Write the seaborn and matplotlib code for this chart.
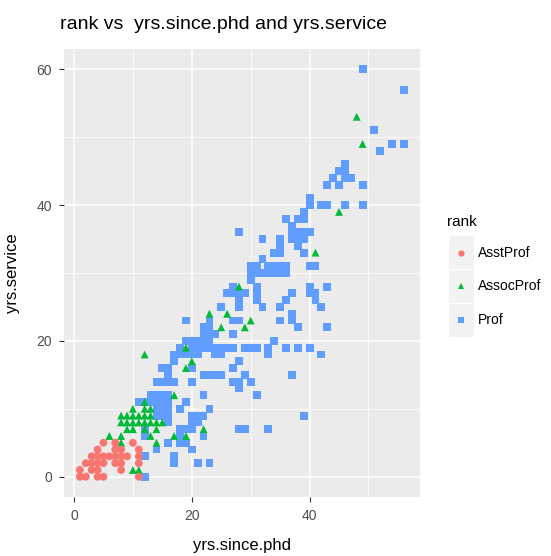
import matplotlib
matplotlib.use("Agg")
import matplotlib.pyplot as plt
import pandas as pd
import seaborn as sns
from matplotlib.patches import Rectangle
from matplotlib.lines import Line2D

# (yrs.since.phd, yrs.service) for each faculty rank
asst_points = [
    (1, 0), (2, 0), (4, 0), (5, 0), (11, 0),
    (1, 1), (3, 1), (4, 1), (8, 1),
    (2, 2), (3, 2), (4, 2), (5, 2), (7, 2), (8, 2), (11, 2),
    (3, 3), (4, 3), (5, 3), (6, 3), (7, 3), (8, 3), (9, 3), (11, 3),
    (4, 4), (7, 4), (8, 4), (11, 4),
    (5, 5), (7, 5), (10, 5),
]

assoc_points = [
    (10, 1), (11, 1), (8, 5), (14, 5), (6, 6), (8, 6), (13, 6), (17, 6), (19, 6),
    (9, 7), (10, 7), (12, 7), (14, 7), (22, 7),
    (8, 8), (9, 8), (10, 8), (11, 8), (12, 8), (13, 8), (14, 8), (15, 8),
    (8, 9), (9, 9), (10, 9), (11, 9), (12, 9), (13, 9),
    (10, 10), (12, 10), (13, 10), (12, 11), (17, 12),
    (12, 18), (19, 16), (20, 17), (19, 19), (23, 24), (26, 24), (25, 22),
    (29, 22), (30, 23), (28, 28), (41, 33), (45, 39), (49, 49), (48, 53),
]

prof_points = [
    (12, 0), (12, 3), (14, 4), (16, 5), (18, 5), (19, 5), (17, 3), (17, 2),
    (21, 2), (23, 2), (20, 4), (22, 6), (12, 6), (12, 7), (18, 6), (18, 7),
    (19, 7), (20, 7), (28, 7), (29, 7), (33, 7), (39, 9), (37, 15),
    (20, 8), (21, 8), (16, 8), (20, 9), (21, 9), (22, 9), (16, 9), (14, 9), (15, 9),
    (18, 10), (23, 10), (14, 10), (15, 10), (16, 10),
    (11, 11), (12, 11), (13, 11), (14, 11), (15, 11), (16, 11), (19, 11),
    (13, 12), (14, 12), (15, 12), (16, 12), (22, 12), (31, 12),
    (28, 13), (14, 14), (15, 14), (16, 14), (17, 14), (20, 14), (27, 14), (28, 14), (30, 14),
    (16, 15), (22, 15), (23, 15), (24, 15), (25, 15), (29, 15),
    (15, 16), (16, 16), (20, 16), (27, 16), (17, 17), (28, 17),
    (17, 18), (18, 18), (19, 18), (20, 18), (21, 18), (24, 18), (25, 18), (33, 18), (42, 18),
    (18, 19), (20, 19), (21, 19), (22, 19), (23, 19), (24, 19), (25, 19), (26, 19),
    (27, 19), (29, 19), (30, 19), (31, 19), (33, 19), (36, 19), (38, 19), (40, 19),
    (19, 20), (20, 20), (21, 20), (22, 20), (23, 20), (34, 20),
    (22, 21), (23, 21), (24, 21), (27, 21), (22, 22), (23, 22), (38, 22), (43, 22),
    (19, 23), (23, 23), (27, 23), (28, 23), (35, 23), (37, 23), (37, 24),
    (25, 25), (28, 25), (32, 25), (35, 25), (42, 25), (28, 26), (31, 26), (36, 26), (41, 26),
    (26, 27), (27, 27), (28, 27), (29, 27), (31, 27), (37, 27), (40, 27), (41, 27),
    (27, 28), (31, 28), (40, 28), (43, 28), (30, 29),
    (30, 30), (31, 30), (32, 30), (33, 30), (34, 30), (35, 30), (36, 30),
    (30, 31), (31, 31), (33, 31), (34, 31), (35, 31), (36, 31), (40, 31), (41, 31),
    (32, 32), (34, 33), (35, 33), (39, 33), (35, 34), (38, 34),
    (32, 35), (35, 35), (37, 35), (38, 35), (39, 35), (28, 36), (37, 36), (38, 36),
    (39, 36), (40, 36), (37, 37), (36, 38), (38, 38), (39, 38), (39, 39),
    (40, 40), (40, 41), (42, 40), (43, 40), (46, 40), (49, 40),
    (43, 43), (45, 43), (49, 43), (44, 44), (46, 44), (47, 44), (45, 45), (46, 45), (46, 46),
    (52, 48), (54, 49), (56, 49), (51, 51), (56, 57), (49, 60),
]

ranks = ["AsstProf", "AssocProf", "Prof"]
colors = {"AsstProf": "#F8766D", "AssocProf": "#00BA38", "Prof": "#619CFF"}
markers = {"AsstProf": "o", "AssocProf": "^", "Prof": "s"}

frames = []
for name, pts in [("Prof", prof_points), ("AssocProf", assoc_points), ("AsstProf", asst_points)]:
    frames.append(pd.DataFrame({
        "yrs.since.phd": [p[0] for p in pts],
        "yrs.service": [p[1] for p in pts],
        "rank": name,
    }))
df = pd.concat(frames, ignore_index=True)

plt.rcParams["font.family"] = ["Liberation Sans", "DejaVu Sans"]

W, H = 551, 556
fig = plt.figure(figsize=(W / 100, H / 100), dpi=100)
px_l, px_r, px_t, px_b = 63.7, 420.0, 48.9, 497.1
ax = fig.add_axes([px_l / W, 1 - px_b / H, (px_r - px_l) / W, (px_b - px_t) / H])
ax.set_facecolor("#EBEBEB")
for s in ax.spines.values():
    s.set_visible(False)

ax.set_xlim(-1.75, 58.75)
ax.set_ylim(-3, 63)
ax.set_xticks([0, 20, 40])
ax.set_xticks([10, 30, 50], minor=True)
ax.set_yticks([0, 20, 40, 60])
ax.set_yticks([10, 30, 50], minor=True)
ax.grid(which="major", color="white", linewidth=1.1)
ax.grid(which="minor", color="white", linewidth=0.55)
ax.set_axisbelow(True)
ax.tick_params(which="major", labelcolor="#4D4D4D", labelsize=10, length=3.5,
               width=0.8, color="#333333")
ax.tick_params(axis="x", which="major", pad=5)
ax.tick_params(axis="y", which="major", pad=5)
ax.tick_params(which="minor", length=0)

sns.scatterplot(data=df, x="yrs.since.phd", y="yrs.service", hue="rank",
                style="rank", hue_order=ranks, style_order=ranks,
                palette=colors, markers=markers, s=32, linewidth=0,
                legend=False, ax=ax)

ax.set_xlabel("yrs.since.phd", fontsize=12, color="black", labelpad=11)
ax.set_ylabel("yrs.service", fontsize=12, color="black", labelpad=12)

fig.text(60 / W, 1 - 29 / H, "rank vs  yrs.since.phd and yrs.service",
         fontsize=14, ha="left", va="baseline", color="black")

# legend drawn with grey key boxes
fig.text(447 / W, 1 - 222 / H, "rank", fontsize=11, ha="left", va="center")
for i, r in enumerate(ranks):
    yc = 252.7 + i * 33.7
    fig.add_artist(Rectangle((449 / W, 1 - (yc + 16.5) / H), 25 / W, 33 / H,
                             transform=fig.transFigure, facecolor="#F2F2F2",
                             edgecolor="none"))
    fig.add_artist(Line2D([461 / W], [1 - yc / H], marker=markers[r],
                          color=colors[r], markersize=4.5, linestyle="none",
                          markeredgewidth=0, transform=fig.transFigure))
    fig.text(478 / W, 1 - yc / H, r, fontsize=10, ha="left", va="center")

fig.savefig("out.png", dpi=100)
